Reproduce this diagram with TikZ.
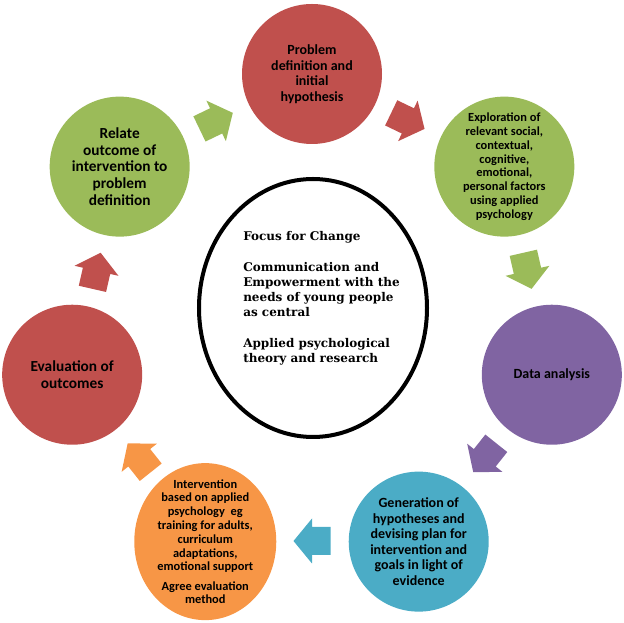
\documentclass[tikz,border=0pt]{standalone}
\usepackage{fontspec}
\setsansfont{Carlito}
\newfontfamily\focusfont{DejaVu Serif}
\usepackage{tikz}
\usetikzlibrary{%
  shapes.geometric%
}
\definecolor{cyclered}{HTML}{C0504D}
\definecolor{cyclegreen}{HTML}{9BBB59}
\definecolor{cyclepurple}{HTML}{8064A2}
\definecolor{cycleblue}{HTML}{4BACC6}
\definecolor{cycleorange}{HTML}{F79646}
\pgfmathsetmacro\ringr{246}
\pgfmathsetmacro\arrowr{221}
\newcommand\cyclearrow[2]{%
  \fill[#2,shift={(#1:\arrowr)},rotate={#1-90}]
  (-18.5,-14) -- (0,-14) -- (0,-22.5) -- (18.5,0) -- (0,22.5) -- (0,14)
  -- (-18.5,14) -- cycle;}

\begin{document}
\begin{tikzpicture}[x=0.75pt,y=0.75pt,
    stage/.style={circle,minimum size=105pt,inner sep=0pt,align=center,
      text=black,font=\sffamily\bfseries\fontsize{10.5}{11.6}\selectfont},
    smallstage/.style={font=\sffamily\bfseries\fontsize{9.3}{10.35}\selectfont},
    bigstage/.style={font=\sffamily\bfseries\fontsize{11.5}{12.5}\selectfont}]

    \useasboundingbox (-312,-303) rectangle (312,320);

    %% centre: focus for change
    \draw[line width=3pt] (1,12) ellipse (114 and 129);
    \node[anchor=north west,inner sep=0pt,align=left,
      font=\focusfont\bfseries\fontsize{9}{11.25}\selectfont] (focus) at (-69,89)
    {Focus for Change\\[12pt]
      Communication and\\
      Empowerment with the\\
      needs of young people\\
      as central\\[12pt]
      Applied psychological\\
      theory and research};

    %%%%%%%%%%%%%%%%
    %% the seven stages, clockwise from the top
    \node[stage,fill=cyclered] (problem) at (90:\ringr)
    {Problem\\definition and\\initial\\hypothesis};

    \node[stage,smallstage,fill=cyclegreen] (explore) at (38.571:\ringr)
    {Exploration of\\relevant social,\\contextual,\\cognitive,\\emotional,\\
      personal factors\\using applied\\psychology};

    \node[stage,fill=cyclepurple] (data) at (-12.857:\ringr) {Data analysis};

    \node[stage,fill=cycleblue] (generate) at (-64.286:\ringr)
    {Generation of\\hypotheses and\\devising plan for\\intervention and\\
      goals in light of\\evidence};

    % orange one is a little taller
    \node[ellipse,minimum width=106.5pt,minimum height=117.75pt,inner sep=0pt,
      fill=cycleorange] (intervene) at (-115.714:\ringr) {};
    \node[align=center,inner sep=0pt,smallstage] (intervtext) at (intervene.center)
    {Intervention\\based on applied\\psychology~~eg\\training for adults,\\
      curriculum\\adaptations,\\emotional support\\[4pt]
      Agree evaluation\\method};

    \node[stage,bigstage,fill=cyclered] (evaluate) at (-167.143:\ringr)
    {Evaluation of\\outcomes};

    \node[stage,bigstage,fill=cyclegreen] (relate) at (141.429:\ringr)
    {Relate\\outcome of\\intervention to\\problem\\definition};

    %%%%%%%%%%%%%%%%
    %% block arrows between stages
    \cyclearrow{64.286}{cyclered}
    \cyclearrow{12.857}{cyclegreen}
    \cyclearrow{-38.571}{cyclepurple}
    \cyclearrow{-90}{cycleblue}
    \cyclearrow{-141.429}{cycleorange}
    \cyclearrow{167.143}{cyclered}
    \cyclearrow{115.714}{cyclegreen}

  \end{tikzpicture}
\end{document}
